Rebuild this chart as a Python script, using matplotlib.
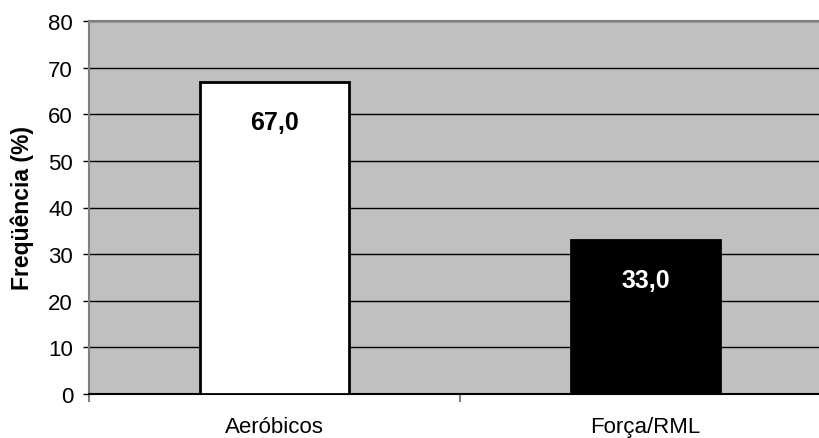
import matplotlib.pyplot as plt

# data
categories = ['Aeróbicos', 'Força/RML']
values = [67.0, 33.0]
bar_colors = ['white', 'black']
label_colors = ['black', 'white']

plt.rcParams['font.family'] = ['Liberation Sans', 'DejaVu Sans']

fig = plt.figure(figsize=(8.2, 4.39), dpi=100)
# right edge of the plot area runs past the figure, as in the original
ax = fig.add_axes([89 / 820, 1 - 395 / 439, 742 / 820, 373 / 439])
ax.set_facecolor('#C0C0C0')

x = list(range(len(categories)))
ax.bar(x, values, width=0.4, color=bar_colors, edgecolor='black', linewidth=2, zorder=3)

for xi, v, c in zip(x, values, label_colors):
    ax.annotate(f'{v:.1f}'.replace('.', ','), (xi, v), xytext=(0, -29),
                textcoords='offset points', ha='center', va='center',
                fontsize=18, fontweight='bold', color=c, zorder=4)

ax.set_xlim(-0.5, 1.5)
ax.set_ylim(0, 80)
ax.set_yticks(range(0, 81, 10))
ax.yaxis.grid(True, color='black', linewidth=1, zorder=1)
ax.set_axisbelow(True)

# category ticks on boundaries, labels at centers
ax.set_xticks([-0.5, 0.5, 1.5])
ax.set_xticklabels([])
ax.set_xticks(x, minor=True)
ax.set_xticklabels(categories, minor=True, fontsize=16)
ax.tick_params(axis='x', which='minor', length=0, pad=16)
ax.tick_params(axis='x', which='major', length=6, color='#808080', width=1.5)
ax.tick_params(axis='y', length=4.5, width=1, labelsize=16, pad=7)

ax.spines['left'].set_color('#808080')
ax.spines['left'].set_linewidth(1.5)
ax.spines['top'].set_color('#808080')
ax.spines['top'].set_linewidth(1.5)
ax.spines['right'].set_visible(False)
ax.spines['bottom'].set_color('black')
ax.spines['bottom'].set_linewidth(1.5)

ax.set_ylabel('Freqüência (%)', fontsize=16.5, fontweight='bold', va='center')
ax.yaxis.set_label_coords(-67 / 742, 0.5)

fig.savefig('out.png', dpi=100)
